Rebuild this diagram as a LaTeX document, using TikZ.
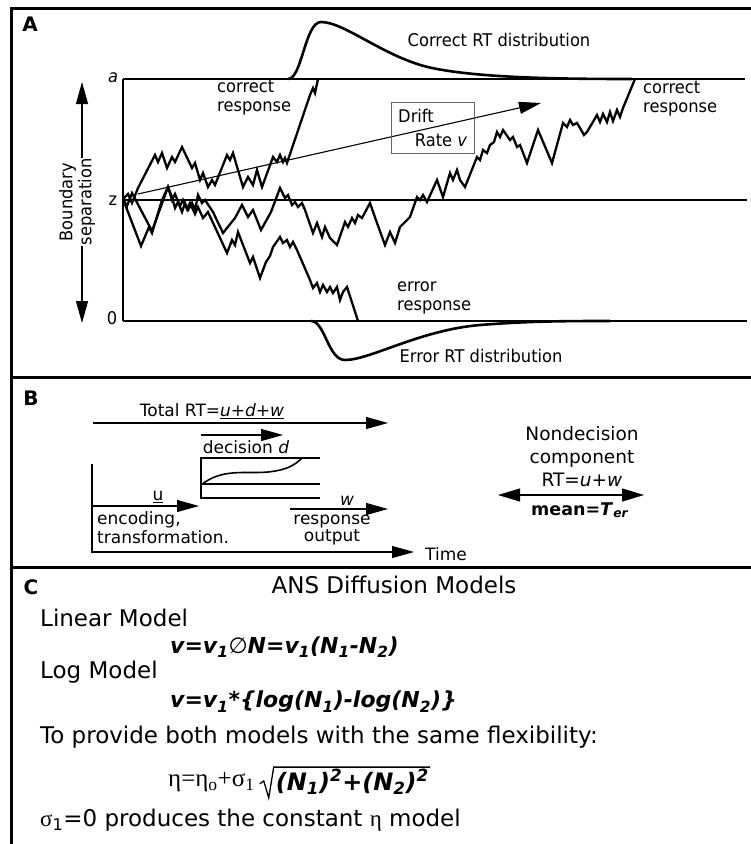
\documentclass[tikz,border=0pt]{standalone}
\usepackage{fontspec}
\setmainfont{DejaVu Sans}
\newfontfamily\condfont[FakeStretch=0.93]{DejaVu Sans}
\newfontfamily\grkfont{Liberation Serif}
\usetikzlibrary{arrows.meta,positioning}

\begin{document}
\begin{tikzpicture}[x=1pt,y=-1pt,
  walk/.style={line width=2.3pt},
  bound/.style={line width=2.6pt},
  frame/.style={line width=3pt},
  thinline/.style={line width=1.1pt},
  tip/.style={-{Triangle[length=22pt,width=12pt]}},
  tips/.style={{Triangle[length=22pt,width=13pt]}-{Triangle[length=22pt,width=13pt]}},
  lbl/.style={inner sep=0pt,font=\condfont\fontsize{17.5}{19}\selectfont},
  blbl/.style={inner sep=0pt,font=\fontsize{17}{17}\selectfont},
  plbl/.style={inner sep=0pt,font=\fontsize{20}{24}\selectfont\bfseries},
  txt/.style={inner sep=0pt,anchor=west,font=\fontsize{23}{26}\selectfont},
  eqn/.style={inner sep=0pt,anchor=west,font=\fontsize{22}{26}\selectfont\bfseries\itshape}]
\useasboundingbox (0,0) rectangle (751,844);

% frames
\draw[frame] (751,8) -- (11,8) -- (11,844);
\draw[frame] (11,377) -- (751,377);
\draw[frame] (11,567) -- (751,567);

% panel A
\node[plbl] (pA) at (30,24) {A};
\draw[bound] (123,79) -- (745,79);
\draw[bound] (123,200) -- (747,200);
\draw[bound] (123,321) -- (747,321);
\draw[bound] (123,79) -- (123,321);
\node[lbl,font=\condfont\fontsize{17.5}{19}\selectfont\itshape] (la) at (113,78) {a};
\node[lbl] (lz) at (113,201) {z};
\node[lbl] (l0) at (112,318) {0};

\node[lbl,rotate=90,align=center] (bsep) at (77,202) {Boundary\\separation};
\coordinate (btop) at (82,82);
\coordinate (bbot) at (82,323);
\draw[thinline,tip] (btop |- bsep.east) -- (btop);
\draw[thinline,tip] (bbot |- bsep.west) -- (bbot);

% RT distributions
\draw[bound] (288,79) .. controls (302,79) and (305,22) .. (321,22)
  .. controls (345,22) and (385,58) .. (432,68)
  .. controls (480,78) and (560,79) .. (632,79);
\draw[bound] (311,321) .. controls (325,321) and (328,360) .. (345,360)
  .. controls (370,360) and (420,330) .. (480,325)
  .. controls (530,321) and (570,321) .. (610,321);
\node[lbl] (cdist) at (499,40) {Correct RT distribution};
\node[lbl] (edist) at (481,356) {Error RT distribution};

% random walks
\draw[walk] (123,199) -- (128,194) -- (132,203) -- (138,188) -- (155,155) -- (158,162)
  -- (162,153) -- (167,168) -- (172,157) -- (175,162) -- (182,147) -- (192,168)
  -- (195,163) -- (200,180) -- (203,173) -- (208,187) -- (212,180) -- (215,185)
  -- (227,155) -- (230,160) -- (233,153) -- (243,187) -- (248,177) -- (253,185)
  -- (257,170) -- (262,187) -- (273,157) -- (277,162) -- (280,155) -- (283,162)
  -- (285,158) -- (287,163) -- (310,95) -- (313,88) -- (315,93) -- (318,79);
\draw[walk] (123,199) -- (127,206) -- (132,193) -- (152,231) -- (168,187) -- (172,197)
  -- (175,208) -- (178,202) -- (182,212) -- (185,203) -- (188,210) -- (192,203)
  -- (195,210) -- (198,195) -- (202,203) -- (205,200) -- (213,212) -- (223,233)
  -- (235,218) -- (242,205) -- (248,217) -- (253,210) -- (261,230) -- (271,212)
  -- (280,188) -- (285,198) -- (288,195) -- (292,205) -- (295,202) -- (298,207)
  -- (302,203) -- (305,210) -- (313,233) -- (317,223) -- (322,237) -- (325,227)
  -- (330,238) -- (337,245) -- (345,222) -- (348,227) -- (352,218) -- (355,223)
  -- (358,215) -- (362,218) -- (370,203) -- (377,223) -- (385,245) -- (390,232)
  -- (395,243) -- (400,227) -- (410,217) -- (417,197) -- (420,200) -- (423,195)
  -- (427,202) -- (437,180) -- (443,197) -- (450,173) -- (453,180) -- (457,170)
  -- (460,180) -- (465,187) -- (477,157) -- (480,160) -- (483,150) -- (487,153)
  -- (490,145) -- (494,142) -- (497,132) -- (500,137) -- (503,130) -- (510,140)
  -- (513,137) -- (517,147) -- (520,145) -- (527,163) -- (538,130) -- (552,163)
  -- (563,123) -- (567,127) -- (570,120) -- (573,125) -- (577,123) -- (580,128)
  -- (584,135) -- (587,132) -- (597,115) -- (600,122) -- (603,114) -- (607,122)
  -- (610,112) -- (613,121) -- (617,110) -- (620,117) -- (623,108) -- (635,79);
\draw[walk] (123,199) -- (141,246) -- (149,227) -- (152,233) -- (162,200) -- (168,187)
  -- (172,200) -- (175,194) -- (180,206) -- (183,200) -- (187,209) -- (190,203)
  -- (195,214) -- (198,207) -- (203,218) -- (208,212) -- (227,253) -- (232,240)
  -- (235,245) -- (238,232) -- (250,263) -- (253,257) -- (260,278) -- (266,262)
  -- (270,256) -- (273,247) -- (280,237) -- (283,243) -- (287,240) -- (290,247)
  -- (293,242) -- (297,250) -- (310,280) -- (313,288) -- (317,283) -- (320,292)
  -- (323,285) -- (327,292) -- (330,287) -- (333,293) -- (337,287) -- (340,300)
  -- (343,292) -- (347,287) -- (358,321);

% drift
\coordinate (dstart) at (138,194);
\coordinate (dend) at (541,103);
\draw[thinline,tip] (dstart) -- (dend);
\node[draw=black!60,line width=1pt,minimum width=83pt,minimum height=51pt] (dbox) at (432.5,127.5) {};
\node[lbl] (drift) at (416,116) {Drift};
\node[lbl] (rate) at (441,140) {Rate \textit{v}};

\node[lbl,align=left,anchor=west] (cresp1) at (217,98) {correct\\response};
\node[lbl,align=left,anchor=west] (cresp2) at (643,99) {correct\\response};
\node[lbl,align=left,anchor=west] (eresp) at (397,298) {error\\response};

% panel B
\node[plbl] (pB) at (31,398) {B};
\node[blbl] (total) at (212,411) {Total RT=\underline{\textit{u+d+w}}};
\draw[thinline,tip] (93,423) -- (388,423);
\draw[thinline,tip] (201,435) -- (283,435);
\node[blbl] (dec) at (246,447) {decision \textit{d}};
\draw[bound] (320,458) -- (201,458) -- (201,498) -- (320,498);
\draw[bound] (201,484) -- (320,484);
\draw[line width=1.6pt] (201,485) .. controls (222,468) and (245,474) .. (268,472)
  .. controls (287,470) and (295,465) .. (302,458);
\node[blbl] (time) at (446,554) {Time};
\coordinate (tend) at (414,552);
\draw[thinline,tip] (92,464) -- (92,552) -- (tend);
\draw[thinline,tip] (93,506) -- (199,506);
\node[blbl] (uu) at (158,497) {\underline{u}};
\node[blbl,align=left,anchor=north west,font=\fontsize{17}{19}\selectfont] (enc) at (97,511) {encoding,\\transformation.};
\draw[thinline,tip] (290,509) -- (388,509);
\node[blbl] (ww) at (347,501) {\textit{w}};
\node[blbl,align=center] (resp) at (332,530) {response\\output};
\node[blbl,align=center,font=\fontsize{18.5}{23}\selectfont] (nondec) at (582,457) {Nondecision\\component\\RT=\textit{u+w}};
\draw[thinline,tips] (498,495) -- (644,495);
\node[blbl,font=\fontsize{17.5}{20}\selectfont\bfseries] (mean) at (580,510) {mean=\textit{T}\textsubscript{\textit{er}}};

% panel C
\node[plbl] (pC) at (31,587) {C};
\node[txt,anchor=center] (title) at (394,585) {ANS Diffusion Models};
\node[txt] (lin) at (40,618) {Linear Model};
\node[eqn] (eqlin) at (170,647) {v=v\textsubscript{1}{\mdseries\upshape ∅}N=v\textsubscript{1}(N\textsubscript{1}-N\textsubscript{2})};
\node[txt] (logm) at (40,672) {Log Model};
\node[eqn] (eqlog) at (170,702) {v=v\textsubscript{1}*\{log(N\textsubscript{1})-log(N\textsubscript{2})\}};
\node[txt] (prov) at (40,737) {To provide both models with the same flexibility:};
\node[inner sep=0pt,anchor=west,font=\grkfont\fontsize{25}{28}\selectfont] (eqeta) at (168,782) {η=η\textsubscript{o}+σ\textsubscript{1}};
\node[inner sep=1pt,anchor=west,right=20pt of eqeta,font=\fontsize{24}{28}\selectfont\bfseries\itshape] (eqroot) {(N\textsubscript{1})\textsuperscript{2}+(N\textsubscript{2})\textsuperscript{2}};
\draw[line width=1.3pt] ([shift={(-15,-12)}]eqroot.south west) -- ([shift={(-11,-15)}]eqroot.south west)
  -- ([shift={(-6,2)}]eqroot.south west) -- ([shift={(-1,-1)}]eqroot.north west) -- ([shift={(0,-1)}]eqroot.north east);
\node[txt] (sig) at (40,820) {{\grkfont σ}\textsubscript{1}=0 produces the constant {\grkfont η} model};
\end{tikzpicture}
\end{document}
